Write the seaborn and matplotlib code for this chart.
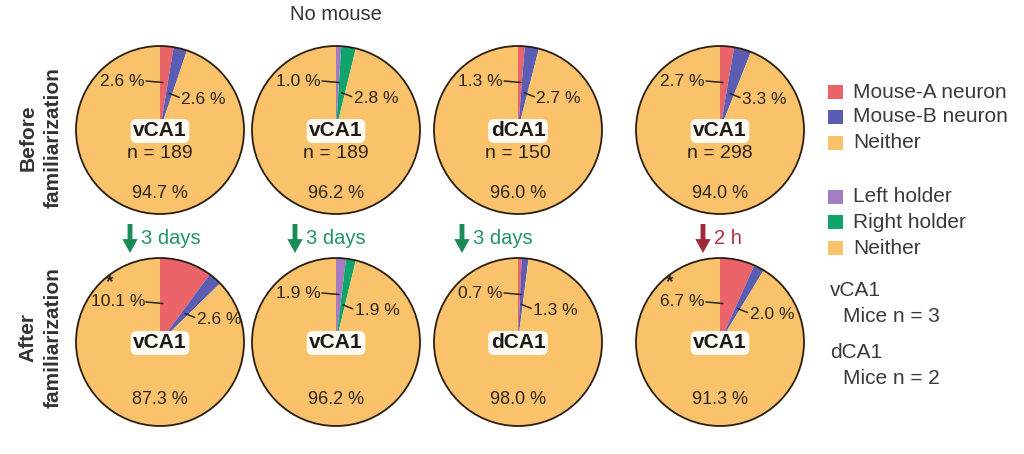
import numpy as np
import matplotlib.pyplot as plt
import seaborn as sns
from matplotlib.patches import Circle, Rectangle

# === Data ===
regions = ["vCA1", "vCA1", "dCA1", "vCA1"]
cells_before = [189, 189, 150, 298]
first_before = [2.6, 1.0, 1.3, 2.7]      # Mouse-A neuron / Left holder
second_before = [2.6, 2.8, 2.7, 3.3]     # Mouse-B neuron / Right holder
neither_before = [94.7, 96.2, 96.0, 94.0]
first_after = [10.1, 1.9, 0.7, 6.7]
second_after = [2.6, 1.9, 1.3, 2.0]
neither_after = [87.3, 96.2, 98.0, 91.3]
significant_after = [True, False, False, True]
intervals = ["3 days", "3 days", "3 days", "2 h"]
holder_column = [False, True, False, False]

legend_mouse = ["Mouse-A neuron", "Mouse-B neuron", "Neither"]
legend_holder = ["Left holder", "Right holder", "Neither"]
mice_notes = [("vCA1", "Mice n = 3"), ("dCA1", "Mice n = 2")]

# === Style ===
sns.set_theme(style="white")
plt.rcParams['font.family'] = ['Liberation Sans', 'DejaVu Sans']

RED, BLUE, ORANGE = "#EA6469", "#5B5DB3", "#FAC36B"
PURPLE, GREEN = "#A47CC2", "#10A46B"
mouse_pal = sns.color_palette([RED, BLUE, ORANGE])
holder_pal = sns.color_palette([PURPLE, GREEN, ORANGE])
EDGE = "#2b1e10"
TXT = "#2a2419"

W, H = 1024, 454
col_x = [160, 336, 518, 720]
row_y = [130, 342]
R = 84

fig = plt.figure(figsize=(W / 100, H / 100), dpi=100)
ax = fig.add_axes([0, 0, 1, 1])


def draw_pie(cx, cy, vals, pal, region, n, star):
    a, b, c = vals
    ax.pie(vals, colors=pal, startangle=270, counterclock=True,
           center=(cx, cy), radius=R, wedgeprops=dict(linewidth=0), frame=True)
    ax.add_patch(Circle((cx, cy), R, fill=False, ec=EDGE, lw=1.3, zorder=3))
    tot = a + b + c

    # left label (first wedge)
    ly = cy - (49 if a < 5 else 40)
    ax.plot([cx - 14, cx + 3], [ly, ly + 1.5], color=TXT, lw=1.1, zorder=4)
    ax.text(cx - 15, ly, f"{a:.1f} %", ha='right', va='center',
            fontsize=12.5, color=TXT, zorder=4)
    if star:
        ax.text(cx - 50, ly - 11, "*", ha='center', va='bottom',
                fontsize=14, fontweight='bold', color=TXT)

    # right label (second wedge)
    phi = np.deg2rad((a + b / 2) / tot * 360)
    r = 0.45 * R
    px, py = cx + r * np.sin(phi), cy - r * np.cos(phi)
    ax.plot([px, px + 10], [py, py + 4], color=TXT, lw=1.1, zorder=4)
    ax.text(px + 12, py + 6, f"{b:.1f} %", ha='left', va='center',
            fontsize=12.5, color=TXT, zorder=4)

    # centre labels
    ax.text(cx, cy + 1, region, ha='center', va='center', fontsize=15,
            fontweight='bold', color="#1a1a1a", zorder=5,
            bbox=dict(boxstyle='round,pad=0.12,rounding_size=0.3',
                      fc='#FFFAF2', ec='none'))
    if n is not None:
        ax.text(cx, cy + 24, f"n = {n}", ha='center', va='center',
                fontsize=14, color=TXT, zorder=4)
        ax.text(cx, cy + 63, f"{c:.1f} %", ha='center', va='center',
                fontsize=13, color=TXT, zorder=4)
    else:
        ax.text(cx, cy + 58, f"{c:.1f} %", ha='center', va='center',
                fontsize=13, color=TXT, zorder=4)


for i in range(4):
    pal = holder_pal if holder_column[i] else mouse_pal
    draw_pie(col_x[i], row_y[0],
             [first_before[i], second_before[i], neither_before[i]],
             pal, regions[i], cells_before[i], False)
    draw_pie(col_x[i], row_y[1],
             [first_after[i], second_after[i], neither_after[i]],
             pal, regions[i], None, significant_after[i])

# arrows between rows
arrow_x = [130, 295, 462, 703]
for i in range(4):
    is_h = intervals[i] == "2 h"
    ac = "#9E2A3A" if is_h else "#1B8A55"
    tc = "#B0303F" if is_h else "#23936A"
    ax.annotate("", xy=(arrow_x[i], 253), xytext=(arrow_x[i], 224),
                arrowprops=dict(facecolor=ac, edgecolor='none', width=3.5,
                                headwidth=11, headlength=10, shrink=0))
    ax.text(arrow_x[i] + 11, 239, intervals[i], ha='left', va='center',
            fontsize=14.5, color=tc)

ax.text(336, 15, "No mouse", ha='center', va='center', fontsize=14.5,
        color="#333333")

# row labels
for y, word in [(138, "Before"), (338, "After")]:
    ax.text(28, y, word, rotation=90, ha='center', va='center',
            fontsize=15, fontweight='bold', color="#333333")
    ax.text(53, y, "familiarization", rotation=90, ha='center', va='center',
            fontsize=15, fontweight='bold', color="#333333")

# legend
leg_y = [92, 117, 143, 197, 222, 248]
leg_cols = list(mouse_pal) + list(holder_pal)
for y, lab, col in zip(leg_y, legend_mouse + legend_holder, leg_cols):
    ax.add_patch(Rectangle((828, y - 7), 15, 14, fc=col, ec='none'))
    ax.text(853, y, lab, ha='left', va='center', fontsize=15,
            color="#3a3a3a")

for (title, note), y in zip(mice_notes, [291, 353]):
    ax.text(830, y, title, ha='left', va='center', fontsize=15,
            color="#3a3a3a")
    ax.text(843, y + 25, note, ha='left', va='center', fontsize=15,
            color="#3a3a3a")

ax.set_xlim(0, W)
ax.set_ylim(H, 0)
ax.set_aspect('equal')
ax.axis('off')

plt.savefig("out.png", dpi=100, facecolor='white')
